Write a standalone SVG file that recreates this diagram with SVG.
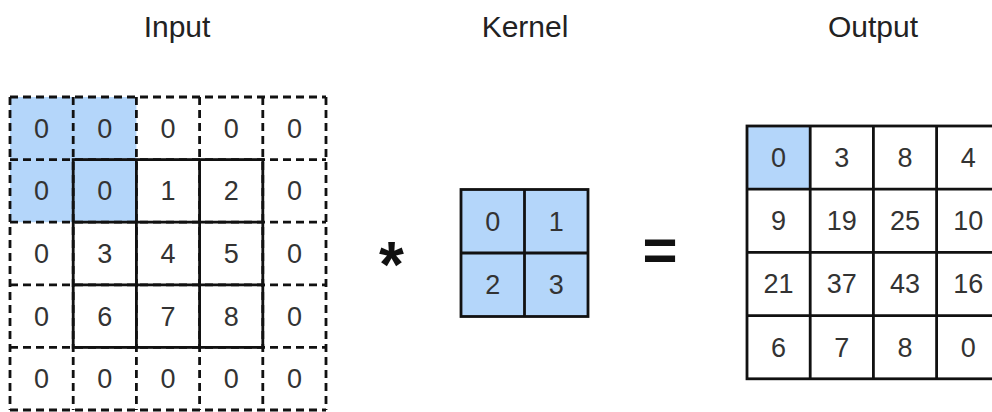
<svg xmlns="http://www.w3.org/2000/svg" width="992" height="412" viewBox="0 0 992 412">
<style>
.title{font-family:"Liberation Sans",Arial,sans-serif;font-size:30px;fill:#222;text-anchor:middle}
.num{font-family:"Liberation Sans",Arial,sans-serif;font-size:27px;fill:#333;text-anchor:middle}
.op{font-family:"Liberation Sans",Arial,sans-serif;font-weight:bold;fill:#111;text-anchor:middle}
.blue{fill:#b4d6fa}
.solid{fill:none;stroke:#111;stroke-width:2.8}
.dash{fill:none;stroke:#111;stroke-width:2.8;stroke-dasharray:8 5}
</style>
<rect width="992" height="412" fill="#fff"/>
<g id="titles">
<text class="title" x="177" y="37">Input</text>
<text class="title" x="525" y="37">Kernel</text>
<text class="title" x="873" y="37">Output</text>
</g>
<g id="input">
<rect class="blue" x="10" y="97" width="126.4" height="125.2"/>
<path class="dash" d="M10 97H326M10 159.6H326M10 222.2H326M10 284.8H326M10 347.4H326M10 410H326M10 97V410M73.2 97V410M136.4 97V410M199.6 97V410M262.8 97V410M326 97V410"/>
<rect class="solid" x="73.2" y="159.6" width="189.6" height="187.8"/>
<path class="solid" d="M136.4 159.6V347.4M199.6 159.6V347.4M73.2 222.2H262.8M73.2 284.8H262.8"/>
<g>
<text class="num" x="41.6" y="137.8">0</text><text class="num" x="104.8" y="137.8">0</text><text class="num" x="168" y="137.8">0</text><text class="num" x="231.2" y="137.8">0</text><text class="num" x="294.4" y="137.8">0</text>
<text class="num" x="41.6" y="200.4">0</text><text class="num" x="104.8" y="200.4">0</text><text class="num" x="168" y="200.4">1</text><text class="num" x="231.2" y="200.4">2</text><text class="num" x="294.4" y="200.4">0</text>
<text class="num" x="41.6" y="263">0</text><text class="num" x="104.8" y="263">3</text><text class="num" x="168" y="263">4</text><text class="num" x="231.2" y="263">5</text><text class="num" x="294.4" y="263">0</text>
<text class="num" x="41.6" y="325.6">0</text><text class="num" x="104.8" y="325.6">6</text><text class="num" x="168" y="325.6">7</text><text class="num" x="231.2" y="325.6">8</text><text class="num" x="294.4" y="325.6">0</text>
<text class="num" x="41.6" y="388.2">0</text><text class="num" x="104.8" y="388.2">0</text><text class="num" x="168" y="388.2">0</text><text class="num" x="231.2" y="388.2">0</text><text class="num" x="294.4" y="388.2">0</text>
</g>
</g>
<g id="op-star"><text class="op" x="391.5" y="287" font-size="64">*</text></g>
<g id="kernel">
<rect class="blue" x="461" y="189.5" width="127" height="127"/>
<rect class="solid" x="461" y="189.5" width="127" height="127"/>
<path class="solid" d="M524.5 189.5V316.5M461 253H588"/>
<text class="num" x="492.75" y="230.5">0</text><text class="num" x="556.25" y="230.5">1</text>
<text class="num" x="492.75" y="294">2</text><text class="num" x="556.25" y="294">3</text>
</g>
<g id="op-equals"><text class="op" x="660" y="270" font-size="60">=</text></g>
<g id="output">
<rect class="blue" x="747" y="126" width="63.2" height="63.2"/>
<rect class="solid" x="747" y="126" width="252.8" height="252.8"/>
<path class="solid" d="M810.2 126V378.8M873.4 126V378.8M936.6 126V378.8M747 189.2H999.8M747 252.4H999.8M747 315.6H999.8"/>
<text class="num" x="778.6" y="167">0</text><text class="num" x="841.8" y="167">3</text><text class="num" x="905" y="167">8</text><text class="num" x="968.2" y="167">4</text>
<text class="num" x="778.6" y="230.2">9</text><text class="num" x="841.8" y="230.2">19</text><text class="num" x="905" y="230.2">25</text><text class="num" x="968.2" y="230.2">10</text>
<text class="num" x="778.6" y="293.4">21</text><text class="num" x="841.8" y="293.4">37</text><text class="num" x="905" y="293.4">43</text><text class="num" x="968.2" y="293.4">16</text>
<text class="num" x="778.6" y="356.6">6</text><text class="num" x="841.8" y="356.6">7</text><text class="num" x="905" y="356.6">8</text><text class="num" x="968.2" y="356.6">0</text>
</g>
</svg>
